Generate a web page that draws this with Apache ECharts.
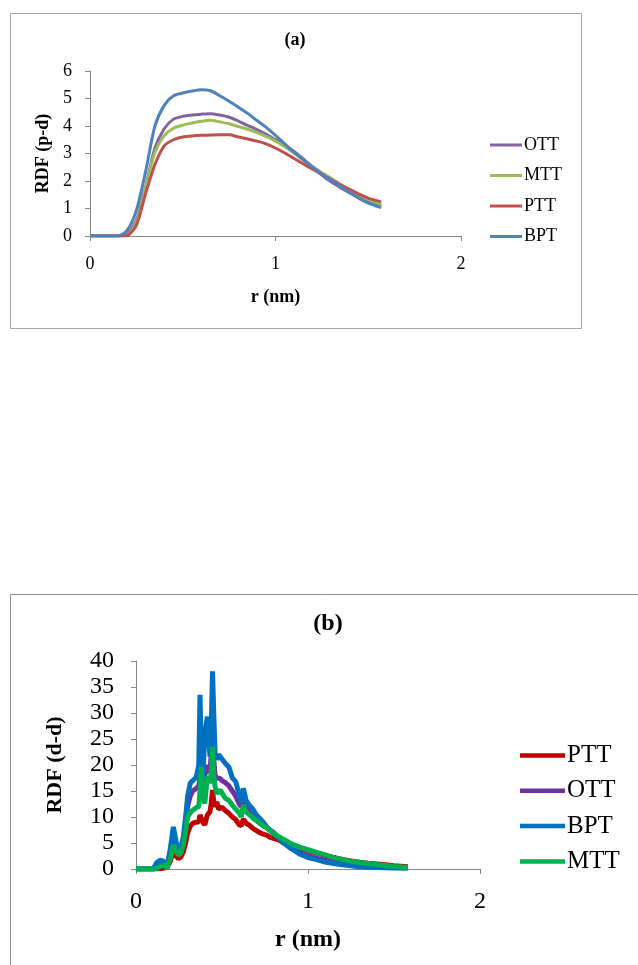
<!DOCTYPE html>
<html>
<head>
<meta charset="utf-8">
<script src="https://cdn.jsdelivr.net/npm/echarts@6/dist/echarts.min.js"></script>
<style>
  html, body { margin: 0; padding: 0; background: #fff; }
  #chart { width: 638px; height: 965px; }
</style>
</head>
<body>
<div id="chart"></div>
<script>
// (a) RDF p-d
const rA = [0, 0.15, 0.2, 0.25, 0.3, 0.35, 0.4, 0.45, 0.5, 0.55, 0.6, 0.65, 0.7, 0.75,
  0.8, 0.85, 0.9, 0.95, 1.0, 1.05, 1.1, 1.15, 1.2, 1.25, 1.3, 1.35, 1.4, 1.45, 1.5, 1.57];
const ottA = [0, 0, 0.05, 0.57, 1.8, 3.2, 3.9, 4.25, 4.35, 4.4, 4.43, 4.45, 4.4, 4.32,
  4.18, 4.02, 3.87, 3.7, 3.5, 3.3, 3.07, 2.8, 2.5, 2.22, 1.97, 1.76, 1.57, 1.4, 1.25, 1.1];
const mttA = [0, 0, 0.03, 0.5, 1.75, 3.05, 3.65, 3.92, 4.03, 4.11, 4.17, 4.21, 4.15, 4.08,
  3.98, 3.88, 3.76, 3.62, 3.45, 3.25, 3.02, 2.76, 2.53, 2.3, 2.1, 1.88, 1.68, 1.48, 1.32, 1.12];
const pttA = [0, 0, 0.02, 0.39, 1.55, 2.6, 3.28, 3.5, 3.6, 3.64, 3.66, 3.67, 3.68, 3.68,
  3.6, 3.53, 3.45, 3.35, 3.2, 3.02, 2.82, 2.62, 2.43, 2.24, 2.05, 1.86, 1.7, 1.52, 1.38, 1.24];
const bptA = [0, 0, 0.2, 0.93, 2.35, 4.0, 4.75, 5.1, 5.2, 5.27, 5.32, 5.28, 5.1, 4.9,
  4.68, 4.46, 4.2, 3.95, 3.66, 3.35, 3.04, 2.77, 2.5, 2.25, 2.03, 1.8, 1.58, 1.37, 1.2, 1.03];

// (b) RDF d-d
const rB = [0, 0.10, 0.12, 0.14, 0.16, 0.18, 0.20, 0.217, 0.232, 0.246, 0.26, 0.275, 0.29,
  0.30, 0.315, 0.33, 0.35, 0.365, 0.372, 0.38, 0.388, 0.40, 0.415, 0.43, 0.437, 0.445,
  0.452, 0.46, 0.47, 0.48, 0.49, 0.50, 0.52, 0.54, 0.56, 0.58, 0.60, 0.612, 0.624, 0.64,
  0.66, 0.68, 0.70, 0.72, 0.74, 0.76, 0.78, 0.80, 0.83, 0.86, 0.90, 0.95, 1.0, 1.05, 1.1,
  1.15, 1.2, 1.25, 1.3, 1.35, 1.4, 1.45, 1.5, 1.58];
const pttB = [0, 0, 0, 0.05, 0.2, 0.3, 1.5, 3.6, 2.5, 2.0, 2.3, 3.3, 5.2,
  6.9, 8.2, 8.8, 9.0, 9.1, 10.4, 10.2, 9.0, 8.5, 10.4, 11.0, 12.5, 15.2,
  13, 12.0, 12.9, 11.5, 11.7, 11.9, 11.2, 10.7, 10.0, 9.5, 8.5, 8.3, 9.6, 8.8,
  8.4, 7.8, 7.4, 7.0, 6.7, 6.5, 6.1, 5.9, 5.6, 5.0, 4.4, 3.9, 3.6, 3.1, 2.6,
  2.2, 1.85, 1.55, 1.3, 1.1, 0.95, 0.8, 0.65, 0.45];
const ottB = [0, 0, 0.3, 0.8, 0.9, 0.3, 2.5, 6.0, 4.0, 2.6, 3.2, 5.0, 9.0,
  12.0, 14.0, 15.0, 15.5, 16.0, 17.5, 17.0, 15.0, 18.0, 20.0, 18.5, 22, 27,
  21, 18.0, 17.5, 17.8, 17.4, 17.0, 16.6, 16.0, 15.0, 14.0, 12.5, 12.0, 13.0, 11.8,
  10.8, 10.0, 9.4, 8.8, 8.3, 8.0, 7.5, 7.0, 6.0, 5.0, 4.0, 3.2, 2.6, 2.1, 1.7,
  1.4, 1.15, 0.95, 0.8, 0.65, 0.5, 0.4, 0.33, 0.26];
const bptB = [0, 0, 1.2, 1.7, 1.5, 0.4, 4.0, 8.1, 5.5, 3.3, 4.0, 6.2, 10.5,
  13.9, 16.5, 17.0, 17.6, 20, 33.5, 22, 16.5, 26, 29.3, 21.6, 27, 38,
  30, 22.2, 21, 22, 21.6, 21.5, 20.3, 19.6, 17.5, 16.8, 14.2, 12.8, 15.5, 13.2,
  12.2, 11.5, 10.4, 9.7, 9.0, 8.1, 7.4, 6.8, 5.9, 5.0, 4.0, 2.9, 2.2, 1.8, 1.35,
  1.05, 0.8, 0.6, 0.45, 0.35, 0.28, 0.22, 0.17, 0.13];
const mttB = [0, 0, 0.1, 0.45, 0.8, 0.15, 2.0, 4.6, 3.5, 2.7, 3.0, 4.6, 7.5,
  10.0, 10.8, 11.3, 11.8, 12.0, 15, 19.7, 14, 12.6, 17.8, 16.5, 18.5, 23.5,
  18, 15.8, 14.5, 14.8, 15.2, 14.6, 13.6, 13.2, 12.3, 11.5, 10.8, 10.0, 12.3, 11.0,
  10.4, 9.8, 9.3, 8.8, 8.3, 7.9, 7.4, 6.9, 6.2, 5.7, 4.9, 4.2, 3.7, 3.2, 2.7,
  2.2, 1.8, 1.5, 1.25, 1.05, 0.85, 0.68, 0.5, 0.32];

// series names carry the panel so the two legends keep their own colours
const legendA = ["OTT a", "MTT a", "PTT a", "BPT a"];
const legendB = ["PTT b", "OTT b", "BPT b", "MTT b"];

const FONT = "Liberation Serif";
const AXIS_COLOR = "#868686";

function pairs(xs, ys) {
  return xs.map((x, i) => [x, ys[i]]);
}

function lineSeries(name, idx, xs, ys, color, width, smooth) {
  return {
    name: name,
    type: "line",
    xAxisIndex: idx,
    yAxisIndex: idx,
    showSymbol: false,
    symbol: "none",
    smooth: smooth,
    lineStyle: { color: color, width: width },
    itemStyle: { color: color },
    data: pairs(xs, ys)
  };
}

function axisX(idx, labelSize, margin, nameSize, nameGap) {
  return {
    type: "value",
    gridIndex: idx,
    min: 0,
    max: 2,
    interval: 1,
    name: "r (nm)",
    nameLocation: "middle",
    nameGap: nameGap,
    nameTextStyle: { fontFamily: FONT, fontWeight: "bold", fontSize: nameSize, color: "#000" },
    axisLine: { onZero: false, lineStyle: { color: AXIS_COLOR, width: 1 } },
    axisTick: { show: true, length: 5, lineStyle: { color: AXIS_COLOR } },
    axisLabel: { fontFamily: FONT, fontSize: labelSize, color: "#000", margin: margin },
    splitLine: { show: false }
  };
}

function axisY(idx, max, interval, name, labelSize, margin, nameSize, nameGap) {
  return {
    type: "value",
    gridIndex: idx,
    min: 0,
    max: max,
    interval: interval,
    name: name,
    nameLocation: "middle",
    nameGap: nameGap,
    nameTextStyle: { fontFamily: FONT, fontWeight: "bold", fontSize: nameSize, color: "#000" },
    axisLine: { show: true, lineStyle: { color: AXIS_COLOR, width: 1 } },
    axisTick: { show: true, length: 5, lineStyle: { color: AXIS_COLOR } },
    axisLabel: { fontFamily: FONT, fontSize: labelSize, color: "#000", margin: margin },
    splitLine: { show: false }
  };
}

function legendBox(names, left, top, lineW, lineH, gap, size, lh) {
  return {
    data: names,
    orient: "vertical",
    left: left,
    top: top,
    padding: 0,
    icon: "rect",
    itemWidth: lineW,
    itemHeight: lineH,
    itemGap: gap,
    formatter: name => name.split(" ")[0],
    textStyle: { fontFamily: FONT, fontSize: size, color: "#000", lineHeight: lh, padding: [0, 0, 0, -3] }
  };
}

const chart = echarts.init(document.getElementById("chart"), null, { renderer: "canvas" });

const option = {
  backgroundColor: "#fff",
  animation: false,
  graphic: [
    {
      type: "rect",
      shape: { x: 10.5, y: 13.5, width: 571, height: 315 },
      style: { fill: "none", stroke: "#a6a6a6", lineWidth: 1 }
    },
    {
      type: "rect",
      shape: { x: 10.5, y: 594.5, width: 700, height: 420 },
      style: { fill: "none", stroke: "#8c8c8c", lineWidth: 1 }
    },
    {
      type: "text",
      x: 295,
      y: 40,
      style: { text: "(a)", fill: "#000", font: "bold 18px " + FONT, align: "center", verticalAlign: "middle" }
    },
    {
      type: "text",
      x: 328,
      y: 624,
      style: { text: "(b)", fill: "#000", font: "bold 24px " + FONT, align: "center", verticalAlign: "middle" }
    }
  ],
  grid: [
    { left: 90, top: 71, width: 371, height: 165 },
    { left: 136, top: 661, width: 344, height: 208 }
  ],
  xAxis: [
    axisX(0, 18, 19, 18, 52),
    axisX(1, 24, 21, 24, 59)
  ],
  yAxis: [
    axisY(0, 6, 1, "RDF (p-d)", 18, 18, 18, 38),
    axisY(1, 40, 5, "RDF (d-d)", 24, 22, 22, 70)
  ],
  legend: [
    legendBox(legendA, 490, 135, 32, 3, 10.5, 18, 20),
    legendBox(legendB, 520, 743, 45, 4.5, 10.3, 25, 24)
  ],
  series: [
    lineSeries("OTT a", 0, rA, ottA, "#8064A2", 3, 0.25),
    lineSeries("MTT a", 0, rA, mttA, "#9BBB59", 3, 0.25),
    lineSeries("PTT a", 0, rA, pttA, "#C0504D", 3, 0.25),
    lineSeries("BPT a", 0, rA, bptA, "#4F81BD", 3, 0.25),
    lineSeries("PTT b", 1, rB, pttB, "#C00000", 5, false),
    lineSeries("OTT b", 1, rB, ottB, "#7030A0", 5, false),
    lineSeries("BPT b", 1, rB, bptB, "#0070C0", 5, false),
    lineSeries("MTT b", 1, rB, mttB, "#00B050", 5, false)
  ]
};

chart.setOption(option);
</script>
</body>
</html>
